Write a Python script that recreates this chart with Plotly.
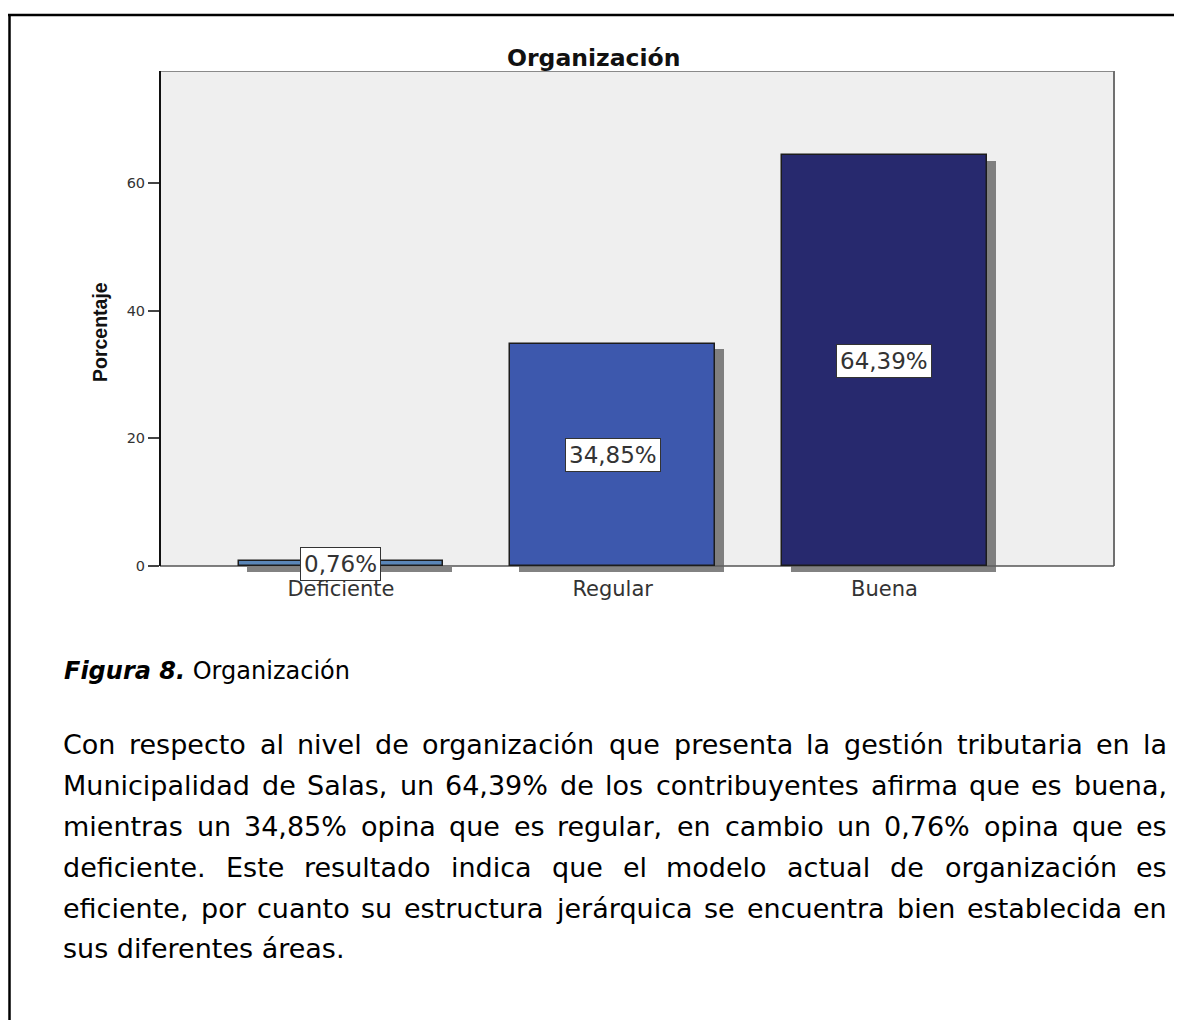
import plotly.graph_objects as go

# ---------------- data ----------------
categories = ["Deficiente", "Regular", "Buena"]
percentages = [0.76, 34.85, 64.39]
value_labels = ["0,76%", "34,85%", "64,39%"]
y_tick_values = [0, 20, 40, 60]
bar_colors = ["#5a86b8", "#3d58ad", "#27296e"]

chart_title = "Organización"
y_axis_title = "Porcentaje"
caption_bold = "Figura 8."
caption_rest = " Organización"
paragraph_lines = [
    "Con respecto al nivel de organización que presenta la gestión tributaria en la",
    "Municipalidad de Salas, un 64,39% de los contribuyentes afirma que es buena,",
    "mientras un 34,85% opina que es regular, en cambio un 0,76% opina que es",
    "deficiente. Este resultado indica que el modelo actual de organización es",
    "eficiente, por cuanto su estructura jerárquica se encuentra bien establecida en",
    "sus diferentes áreas.",
]

# ---------------- layout geometry ----------------
OFF = 8  # page body margin
W, H = 1174, 1012
ML, MR, MT, MB = 152, 68, 63, 446
PW, PH = W - ML - MR, H - MT - MB
Y_MIN, Y_MAX = -1.26, 77.6
X_MIN, X_MAX = -0.666, 2.845
BAR_W = 0.754


def px(xs):
    """screen x pixel -> paper x"""
    return (xs - OFF - ML) / PW


def py(ys):
    """screen y pixel -> paper y"""
    return (H - MB - (ys - OFF)) / PH


# DejaVu Sans advance widths (1/1000 em) for justification
DV = {' ': 318, '%': 950, ',': 318, '.': 318, 'C': 698, 'E': 632, 'M': 863, 'S': 635,
      'a': 613, 'b': 635, 'c': 550, 'd': 635, 'e': 615, 'f': 352, 'g': 635, 'h': 634,
      'i': 278, 'j': 278, 'k': 579, 'l': 278, 'm': 974, 'n': 634, 'o': 612, 'p': 635,
      'q': 635, 'r': 411, 's': 521, 't': 392, 'u': 634, 'v': 592, 'w': 818, 'x': 592,
      'y': 592, 'z': 525, 'á': 613, 'é': 615, 'í': 278, 'ó': 612, 'ú': 634}
for d in "0123456789":
    DV[d] = 636


def tw(s, size):
    return sum(DV.get(c, 600) for c in s) / 1000.0 * size * 1.008


fig = go.Figure()

# bar shadows
fig.add_trace(go.Bar(
    x=categories, y=percentages, base=-0.9, width=BAR_W, offset=-BAR_W / 2 + 0.033,
    marker=dict(color="rgba(95,95,95,0.78)", line=dict(width=0)),
    hoverinfo="skip", showlegend=False,
))
# bars
fig.add_trace(go.Bar(
    x=categories, y=percentages, width=BAR_W, offset=-BAR_W / 2,
    marker=dict(color=bar_colors, line=dict(color="#1c1c1c", width=1.5)),
    showlegend=False,
))

shapes = [
    dict(type="rect", xref="paper", yref="y", x0=0, x1=1, y0=0, y1=Y_MAX,
         fillcolor="#efefef", line=dict(width=0), layer="below"),
    dict(type="line", xref="paper", yref="y", x0=0, x1=1, y0=Y_MAX, y1=Y_MAX,
         line=dict(color="#8a8a8a", width=2), layer="below"),
    dict(type="line", xref="paper", yref="y", x0=1, x1=1, y0=0, y1=Y_MAX,
         line=dict(color="#707070", width=2), layer="below"),
    dict(type="line", xref="paper", yref="y", x0=0, x1=1, y0=0, y1=0,
         line=dict(color="#555555", width=1.5), layer="below"),
    dict(type="line", xref="paper", yref="y", x0=0, x1=0, y0=0, y1=Y_MAX,
         line=dict(color="#111111", width=2), layer="above"),
    # outer page frame
    dict(type="line", xref="paper", yref="paper", x0=px(8), x1=px(1200), y0=py(15), y1=py(15),
         line=dict(color="#000000", width=2.5)),
    dict(type="line", xref="paper", yref="paper", x0=px(9.5), x1=px(9.5), y0=py(15), y1=py(1040),
         line=dict(color="#000000", width=2.5)),
]

annotations = []
for cat, val, lab in zip(categories, percentages, value_labels):
    annotations.append(dict(
        x=cat, y=val / 2, xref="x", yref="y", text=lab, showarrow=False,
        font=dict(family="DejaVu Sans", size=23, color="#333333"),
        bgcolor="#ffffff", bordercolor="#333333", borderwidth=1, borderpad=3,
    ))

annotations.append(dict(
    x=px(593), y=py(58), xref="paper", yref="paper", text="<b>" + chart_title + "</b>",
    showarrow=False, xanchor="center", yanchor="middle",
    font=dict(family="DejaVu Sans", size=23.5, color="#111111"),
))
annotations.append(dict(
    x=px(100), y=py(332), xref="paper", yref="paper", text="<b>" + y_axis_title + "</b>",
    showarrow=False, textangle=-90, xanchor="center", yanchor="middle",
    font=dict(family="Liberation Sans Narrow, Arial Narrow, Liberation Sans, sans-serif",
              size=19.5, color="#111111"),
))
annotations.append(dict(
    x=px(62), y=py(671), xref="paper", yref="paper",
    text="<b><i>" + caption_bold + "</i></b>" + caption_rest,
    showarrow=False, xanchor="left", yanchor="middle",
    font=dict(family="DejaVu Sans", size=24, color="#000000"),
))

# justified paragraph
P_SIZE = 27
LEFT, RIGHT = 63, 1167
first_center, spacing = 744, 41
pfont = dict(family="DejaVu Sans", size=P_SIZE, color="#000000")
common = dict(xref="paper", yref="paper", showarrow=False, yanchor="middle",
              font=pfont, borderpad=0, borderwidth=0)
for i, line in enumerate(paragraph_lines):
    yc = py(first_center + i * spacing)
    words = line.split(" ")
    if i == len(paragraph_lines) - 1:
        annotations.append(dict(x=px(LEFT), y=yc, text=line, xanchor="left", **common))
        continue
    widths = [tw(w, P_SIZE) for w in words]
    n = len(words)
    gap = (RIGHT - LEFT - sum(widths)) / (n - 1)
    half = n // 2
    xpos = LEFT
    for j in range(half):
        annotations.append(dict(x=px(xpos), y=yc, text=words[j], xanchor="left", **common))
        xpos += widths[j] + gap
    xpos = RIGHT
    for j in range(n - 1, half - 1, -1):
        annotations.append(dict(x=px(xpos), y=yc, text=words[j], xanchor="right", **common))
        xpos -= widths[j] + gap

fig.update_layout(
    width=W, height=H,
    margin=dict(l=ML, r=MR, t=MT, b=MB, pad=0),
    paper_bgcolor="#ffffff", plot_bgcolor="rgba(0,0,0,0)",
    barmode="overlay", bargap=0,
    shapes=shapes, annotations=annotations,
    xaxis=dict(type="category", range=[X_MIN, X_MAX], showline=False, showgrid=False,
               zeroline=False, ticks="", fixedrange=True,
               tickfont=dict(family="DejaVu Sans", size=21, color="#333333")),
    yaxis=dict(range=[Y_MIN, Y_MAX], tickvals=y_tick_values, showline=False, showgrid=False,
               zeroline=False, ticks="outside", ticklen=11, tickwidth=1.5, tickcolor="#444444",
               tickfont=dict(family="DejaVu Sans", size=14.5, color="#333333")),
)

fig.write_html("out.html")
